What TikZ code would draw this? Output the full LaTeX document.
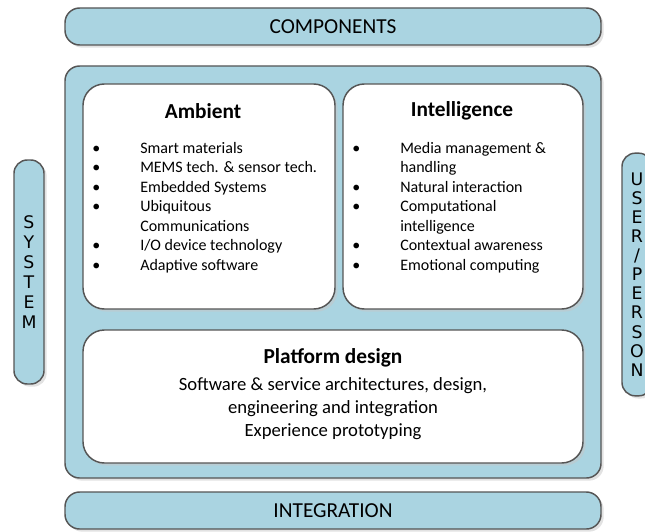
\documentclass[tikz,border=0pt]{standalone}
\usepackage{fontspec}
\setmainfont{Carlito}
\newfontfamily\letterfont{DejaVu Sans}
\usetikzlibrary{shadows,positioning}
\definecolor{barblue}{RGB}{170,212,225}
\definecolor{edgegray}{RGB}{85,85,85}
\newcommand{\blt}{\makebox[36pt][l]{\textbullet}}
\tikzset{
    bar/.style={
        rectangle,
        rounded corners=11pt,
        draw=edgegray,
        line width=1.1pt,
        fill=barblue,
        drop shadow={shadow xshift=2pt,shadow yshift=-2pt,fill=gray!45},
        minimum width=402pt,
        minimum height=27.75pt,
        inner sep=0pt,
        font=\fontsize{16}{19}\selectfont,
    },
    frame/.style={
        rectangle,
        rounded corners=11pt,
        draw=edgegray,
        line width=1.1pt,
        fill=barblue,
        drop shadow={shadow xshift=2pt,shadow yshift=-2pt,fill=gray!45},
        minimum width=402pt,
        minimum height=309pt,
        inner sep=0pt,
    },
    panel/.style={
        rectangle,
        rounded corners=16pt,
        draw=edgegray,
        line width=1.1pt,
        fill=white,
        drop shadow={shadow xshift=2pt,shadow yshift=-2pt,fill=gray!45},
        inner sep=0pt,
    },
    vbar/.style={
        rectangle,
        rounded corners=10pt,
        draw=edgegray,
        line width=1.1pt,
        fill=barblue,
        drop shadow={shadow xshift=2pt,shadow yshift=-2pt,fill=gray!45},
        minimum width=22.5pt,
        inner sep=0pt,
        align=center,
        font=\letterfont\fontsize{13}{15}\selectfont,
    },
    heading/.style={
        inner sep=0pt,
        font=\fontsize{16}{19}\selectfont\bfseries,
    },
    itemlist/.style={
        anchor=north west,
        inner sep=0pt,
        align=left,
        font=\fontsize{12}{14.6}\selectfont,
    },
    bodytext/.style={
        inner sep=0pt,
        align=center,
        font=\fontsize{14}{17.25}\selectfont,
    },
}
\begin{document}
\begin{tikzpicture}[x=0.75pt,y=-0.75pt]
    \useasboundingbox (0,0) rectangle (645,531);
    \node [bar] (comp) at (333,26.5) {COMPONENTS};
    \node [frame] (outer) at (333,272) {};
    \node [panel,minimum width=189pt,minimum height=168.75pt] (amb) at (209,196.5) {};
    \node [panel,minimum width=180pt,minimum height=168.75pt] (intel) at (463,196.5) {};
    \node [panel,minimum width=375pt,minimum height=99.75pt] (plat) at (333,396.5) {};
    \node [bar] (integ) at (333,510.5) {INTEGRATION};
    \node [vbar,minimum height=168pt] (sys) at (29,272) {S\\Y\\S\\T\\E\\M};
    \node [vbar,minimum height=182pt,font=\letterfont\fontsize{13}{14.3}\selectfont] (user) at (637,274.5) {U\\S\\E\\R\\/\\P\\E\\R\\S\\O\\N};

    \node [heading] (ambtitle) at (203,111) {Ambient};
    \node [heading] (inteltitle) at (462,111) {Intelligence};
    \node [itemlist] (amblist) at (92,142) {\blt Smart materials\\
        \blt MEMS tech. \& sensor tech.\\
        \blt Embedded Systems\\
        \blt Ubiquitous\\
        \hspace*{36pt}Communications\\
        \blt I/O device technology\\
        \blt Adaptive software};
    \node [itemlist] (intellist) at (352,142) {\blt Media management \&\\
        \hspace*{36pt}handling\\
        \blt Natural interaction\\
        \blt Computational\\
        \hspace*{36pt}intelligence\\
        \blt Contextual awareness\\
        \blt Emotional computing};

    \node [heading] (plattitle) at (333,358) {Platform design};
    \node [bodytext,below=7pt of plattitle] (platbody) {Software \& service architectures, design,\\
        engineering and integration\\
        Experience prototyping};
\end{tikzpicture}
\end{document}
